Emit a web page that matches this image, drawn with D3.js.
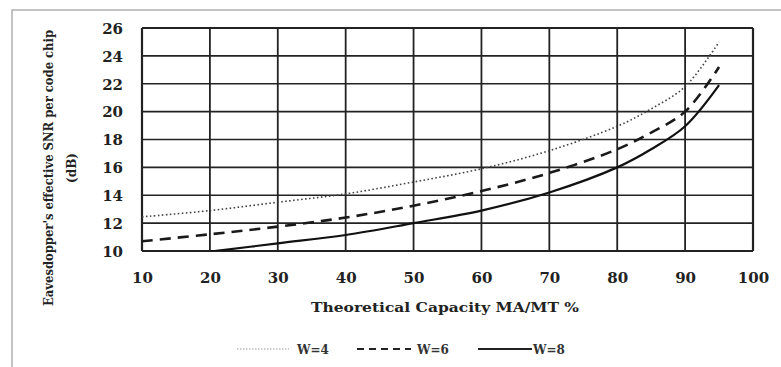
<!DOCTYPE html>
<html>
<head>
<meta charset="utf-8">
<script src="https://cdn.jsdelivr.net/npm/d3@7"></script>
<style>
  html, body { margin: 0; padding: 0; background: #fff; }
  svg { display: block; }
</style>
</head>
<body>
<svg id="chart" width="781" height="367"></svg>
<script>
// ---- data ----
const xTicks = [10, 20, 30, 40, 50, 60, 70, 80, 90, 100];
const yTicks = [10, 12, 14, 16, 18, 20, 22, 24, 26];
const capacityW4 = [10, 20, 30, 40, 50, 60, 70, 80, 85, 90, 95];
const snrW4 = [12.45, 12.9, 13.5, 14.1, 14.95, 15.9, 17.2, 18.95, 20.2, 21.8, 25.0];
const capacityW6 = [10, 20, 30, 40, 50, 60, 70, 80, 85, 90, 95];
const snrW6 = [10.7, 11.2, 11.75, 12.4, 13.25, 14.3, 15.6, 17.3, 18.5, 20.0, 23.2];
const capacityW8 = [20, 30, 40, 50, 60, 70, 80, 85, 90, 95];
const snrW8 = [9.95, 10.55, 11.15, 12.0, 12.9, 14.2, 16.0, 17.3, 18.95, 21.9];
const seriesNames = ["W=4", "W=6", "W=8"];
const xTitle = "Theoretical  Capacity MA/MT %";
const yTitle1 = "Eavesdopper's effective SNR per code chip";
const yTitle2 = "(dB)";

const svg = d3.select("#chart");
const font = "'DejaVu Serif', 'Liberation Serif', serif";

// outer frame
svg.append("rect").attr("x", 12).attr("y", 10).attr("width", 800).attr("height", 400)
  .attr("fill", "none").attr("stroke", "#b0b0b0").attr("stroke-width", 1.5);

const x = d3.scaleLinear().domain([10, 100]).range([142, 753]);
const y = d3.scaleLinear().domain([10, 26]).range([251, 28]);

// grid
const grid = svg.append("g");
grid.selectAll("line.v").data(xTicks).join("line")
  .attr("x1", d => x(d)).attr("x2", d => x(d))
  .attr("y1", y(26)).attr("y2", y(10))
  .attr("stroke", "#222").attr("stroke-width", d => (d === 10 || d === 100) ? 2.2 : 1.8);
grid.selectAll("line.h").data(yTicks).join("line")
  .attr("x1", x(10)).attr("x2", x(100))
  .attr("y1", d => y(d)).attr("y2", d => y(d))
  .attr("stroke", "#222").attr("stroke-width", d => (d === 10 || d === 26) ? 2.2 : 1.6);

// axes labels via d3 axes (tick text only)
const xAxis = svg.append("g").attr("transform", `translate(0,${y(10)})`)
  .call(d3.axisBottom(x).tickValues(xTicks).tickSize(0).tickPadding(26));
xAxis.select(".domain").remove();
xAxis.selectAll("text").attr("font-family", font).attr("font-weight", "bold")
  .attr("font-size", 15).attr("fill", "#222").attr("dy", null).attr("y", 32);

const yAxis = svg.append("g").attr("transform", `translate(${x(10)},0)`)
  .call(d3.axisLeft(y).tickValues(yTicks).tickSize(0).tickPadding(19));
yAxis.select(".domain").remove();
yAxis.selectAll("text").attr("font-family", font).attr("font-weight", "bold")
  .attr("font-size", 15).attr("fill", "#222").attr("dy", "0.35em");

// clip
svg.append("clipPath").attr("id", "plotclip").append("rect")
  .attr("x", x(10)).attr("y", y(26)).attr("width", x(100) - x(10)).attr("height", y(10) - y(26));

const line = d3.line().x(d => x(d[0])).y(d => y(d[1])).curve(d3.curveCatmullRom.alpha(0.5));
const series = [
  { pts: d3.zip(capacityW4, snrW4), width: 1.6, dash: "1.6,2.4", color: "#444" },
  { pts: d3.zip(capacityW6, snrW6), width: 2.6, dash: "11,7", color: "#1a1a1a" },
  { pts: d3.zip(capacityW8, snrW8), width: 2.2, dash: null, color: "#111" }
];
const lines = svg.append("g").attr("clip-path", "url(#plotclip)");
series.forEach(s => {
  lines.append("path").attr("d", line(s.pts)).attr("fill", "none")
    .attr("stroke", s.color).attr("stroke-width", s.width)
    .attr("stroke-dasharray", s.dash);
});

// axis titles
svg.append("text").attr("x", 445).attr("y", 312).attr("text-anchor", "middle")
  .attr("font-family", font).attr("font-weight", "bold").attr("font-size", 13)
  .attr("fill", "#222").attr("textLength", 268).attr("lengthAdjust", "spacingAndGlyphs")
  .text(xTitle);

svg.append("text").attr("transform", "translate(53,168) rotate(-90)")
  .attr("text-anchor", "middle").attr("font-family", font).attr("font-weight", "bold")
  .attr("font-size", 12).attr("fill", "#222")
  .attr("textLength", 276).attr("lengthAdjust", "spacingAndGlyphs")
  .text(yTitle1);
svg.append("text").attr("transform", "translate(76,168) rotate(-90)")
  .attr("text-anchor", "middle").attr("font-family", font).attr("font-weight", "bold")
  .attr("font-size", 12).attr("fill", "#222")
  .text(yTitle2);

// legend
const legend = [
  { x1: 237, x2: 289, tx: 297, width: 1, dash: "1.5,1.5", color: "#999" },
  { x1: 357, x2: 411, tx: 417, width: 2, dash: "7,5", color: "#222" },
  { x1: 478, x2: 532, tx: 533, width: 2, dash: null, color: "#222" }
];
legend.forEach((l, i) => {
  svg.append("line").attr("x1", l.x1).attr("x2", l.x2).attr("y1", 349).attr("y2", 349)
    .attr("stroke", l.color).attr("stroke-width", l.width).attr("stroke-dasharray", l.dash);
  svg.append("text").attr("x", l.tx).attr("y", 353.5).attr("font-family", font)
    .attr("font-weight", "bold").attr("font-size", 12).attr("fill", "#333")
    .text(seriesNames[i]);
});
</script>
</body>
</html>
